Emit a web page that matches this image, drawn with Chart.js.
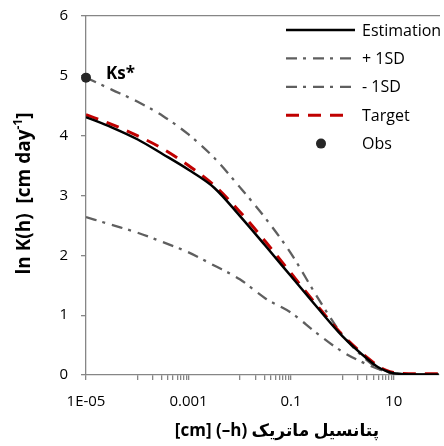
<!DOCTYPE html>
<html>
<head>
<meta charset="utf-8">
<script src="https://cdn.jsdelivr.net/npm/chart.js@4.4.1/dist/chart.umd.min.js"></script>
<style>
  html, body { margin: 0; padding: 0; background: #fff; }
  #wrap { width: 444px; height: 446px; position: relative; }
</style>
</head>
<body>
<div id="wrap"><canvas id="myChart"></canvas></div>
<script>
// suction head (cm) and ln K(h)
const hValues = [1e-5, 3.16e-5, 1e-4, 3.16e-4, 1e-3, 3.16e-3, 0.01, 0.0316, 0.1, 0.316, 1, 3.16, 5, 7, 10, 31.6, 76];
const estimation = [4.31, 4.14, 3.94, 3.69, 3.43, 3.13, 2.66, 2.16, 1.65, 1.14, 0.65, 0.26, 0.13, 0.07, 0.03, 0.01, 0.01];
const plusSD = [4.97, 4.77, 4.57, 4.33, 4.02, 3.63, 3.14, 2.62, 2.03, 1.32, 0.67, 0.23, 0.11, 0.05, 0.02, 0.01, 0.01];
const minusSD = [2.64, 2.51, 2.38, 2.22, 2.05, 1.83, 1.60, 1.28, 1.04, 0.70, 0.39, 0.17, 0.10, 0.06, 0.03, 0.01, 0.01];
const target = [4.35, 4.19, 4.00, 3.78, 3.50, 3.17, 2.73, 2.23, 1.70, 1.17, 0.67, 0.28, 0.15, 0.08, 0.04, 0.02, 0.02];
const obsH = [1e-5];
const obsValues = [4.97];

const seriesNames = ['Estimation', '+ 1SD', '- 1SD', 'Target', 'Obs'];
const xMajorTicks = [1e-5, 1e-3, 0.1, 10];
const xTickLabels = ['1E-05', '0.001', '0.1', '10'];
const yTickLabels = ['0', '1', '2', '3', '4', '5', '6'];
const xTitle = '[cm] (–h) پتانسیل ماتریک';
const yTitle = 'ln K(h)  [cm day';
const obsLabel = 'Ks*';

const FONT = "'Open Sans', 'DejaVu Sans', sans-serif";
const axisGray = '#868686';

// base-100 log axis: majors every two decades, minors 1..9 of the decade in between
const xTickValues = [];
xMajorTicks.forEach((v, i) => {
  xTickValues.push(v);
  if (i < xMajorTicks.length - 1) {
    for (let k = 1; k <= 9; k++) xTickValues.push(v * 10 * k);
  }
});

const toPoints = (ys) => hValues.map((h, i) => ({ x: h, y: ys[i] }));

const datasets = [
  { label: seriesNames[4], data: obsH.map((h, i) => ({ x: h, y: obsValues[i] })),
    showLine: false, pointRadius: 5, pointBackgroundColor: '#262626', pointBorderWidth: 0,
    borderColor: '#262626', clip: false, order: 0 },
  { label: seriesNames[0], data: toPoints(estimation), borderColor: '#000000',
    borderWidth: 2.5, pointRadius: 0, cubicInterpolationMode: 'monotone', order: 1 },
  { label: seriesNames[3], data: toPoints(target), borderColor: '#C00000',
    borderWidth: 3, borderDash: [13, 9], pointRadius: 0, cubicInterpolationMode: 'monotone', order: 2 },
  { label: seriesNames[1], data: toPoints(plusSD), borderColor: '#5f5f5f',
    borderWidth: 2.3, borderDash: [11, 6, 3, 7], pointRadius: 0, cubicInterpolationMode: 'monotone', order: 3 },
  { label: seriesNames[2], data: toPoints(minusSD), borderColor: '#5f5f5f',
    borderWidth: 2.3, borderDash: [11, 6, 3, 7], pointRadius: 0, cubicInterpolationMode: 'monotone', order: 4 },
];

const extras = {
  id: 'extras',
  afterDraw(chart) {
    const { ctx, chartArea, scales } = chart;
    ctx.save();

    // legend, top right inside the plot
    const legendOrder = [1, 3, 4, 2, 0];
    const lx0 = chartArea.right - 153;
    const lx1 = chartArea.right - 84;
    ctx.font = '16px ' + FONT;
    ctx.textBaseline = 'middle';
    ctx.textAlign = 'left';
    legendOrder.forEach((di, row) => {
      const ds = chart.data.datasets[di];
      const y = chartArea.top + 14 + row * 28.4;
      if (ds.showLine === false) {
        ctx.fillStyle = ds.pointBackgroundColor;
        ctx.beginPath();
        ctx.arc(lx0 + 35, y, 5, 0, Math.PI * 2);
        ctx.fill();
      } else {
        ctx.strokeStyle = ds.borderColor;
        ctx.lineWidth = ds.borderWidth;
        ctx.setLineDash(ds.borderDash || []);
        ctx.beginPath();
        ctx.moveTo(lx0, y);
        ctx.lineTo(ds.borderDash && ds.borderDash.length === 2 ? lx1 - 12 : lx1, y);
        ctx.stroke();
        ctx.setLineDash([]);
      }
      ctx.fillStyle = '#000';
      ctx.fillText(ds.label, chartArea.right - 77, y + 1);
    });

    // Ks* next to the observed point
    const px = scales.x.getPixelForValue(obsH[0]);
    const py = scales.y.getPixelForValue(obsValues[0]);
    ctx.font = 'bold 17px ' + FONT;
    ctx.fillText(obsLabel, px + 20, py - 3);

    // x title
    ctx.textAlign = 'center';
    ctx.fillText(xTitle, 277, 431);

    // y title with superscript
    ctx.translate(25, (chartArea.top + chartArea.bottom) / 2 - 2);
    ctx.rotate(-Math.PI / 2);
    ctx.textAlign = 'left';
    const big = 'bold 19px ' + FONT;
    const small = 'bold 12px ' + FONT;
    ctx.font = big;
    const w1 = ctx.measureText(yTitle).width;
    const w3 = ctx.measureText(']').width;
    ctx.font = small;
    const w2 = ctx.measureText('-1').width;
    let x = -(w1 + w2 + w3) / 2;
    ctx.font = big;
    ctx.fillText(yTitle, x, 0);
    x += w1;
    ctx.font = small;
    ctx.fillText('-1', x, -6);
    x += w2;
    ctx.font = big;
    ctx.fillText(']', x, 0);

    ctx.restore();
  }
};

const ctx = document.getElementById('myChart');

const chart = new Chart(ctx, {
  type: 'line',
  data: { datasets },
  options: {
    responsive: true,
    maintainAspectRatio: false,
    animation: false,
    devicePixelRatio: 1,
    layout: { padding: { top: 16, left: 0, right: 0, bottom: 0 } },
    plugins: { legend: { display: false }, tooltip: { enabled: false } },
    scales: {
      x: {
        type: 'logarithmic',
        min: 1e-5,
        max: 76.7,
        afterBuildTicks: (scale) => { scale.ticks = xTickValues.map(v => ({ value: v })); },
        afterFit: (scale) => {
          scale.height = 71;
          scale.paddingLeft = 0;
          scale.paddingRight = 0;
        },
        ticks: {
          autoSkip: false,
          maxRotation: 0,
          padding: 13,
          color: '#000',
          font: { family: FONT, size: 15 },
          callback: (value) => {
            const i = xMajorTicks.indexOf(value);
            return i >= 0 ? xTickLabels[i] : '';
          }
        },
        grid: { drawOnChartArea: false, drawTicks: true, tickLength: 5, color: axisGray, lineWidth: 1.3 },
        border: { color: axisGray, width: 1.3 }
      },
      x2: {
        type: 'linear',
        position: 'top',
        afterFit: (scale) => { scale.height = 0; },
        ticks: { display: false },
        grid: { drawOnChartArea: false, drawTicks: false },
        border: { color: axisGray, width: 1.3 }
      },
      y: {
        min: 0,
        max: 6,
        afterFit: (scale) => {
          scale.width = 86;
          scale.paddingTop = 0;
          scale.paddingBottom = 0;
        },
        ticks: {
          stepSize: 1,
          padding: 13,
          color: '#000',
          font: { family: FONT, size: 15 },
          callback: (value) => yTickLabels[value] ?? ''
        },
        grid: { drawOnChartArea: false, drawTicks: true, tickLength: 5, color: axisGray, lineWidth: 1.3 },
        border: { color: axisGray, width: 1.3 }
      }
    }
  },
  plugins: [extras]
});
</script>
</body>
</html>
